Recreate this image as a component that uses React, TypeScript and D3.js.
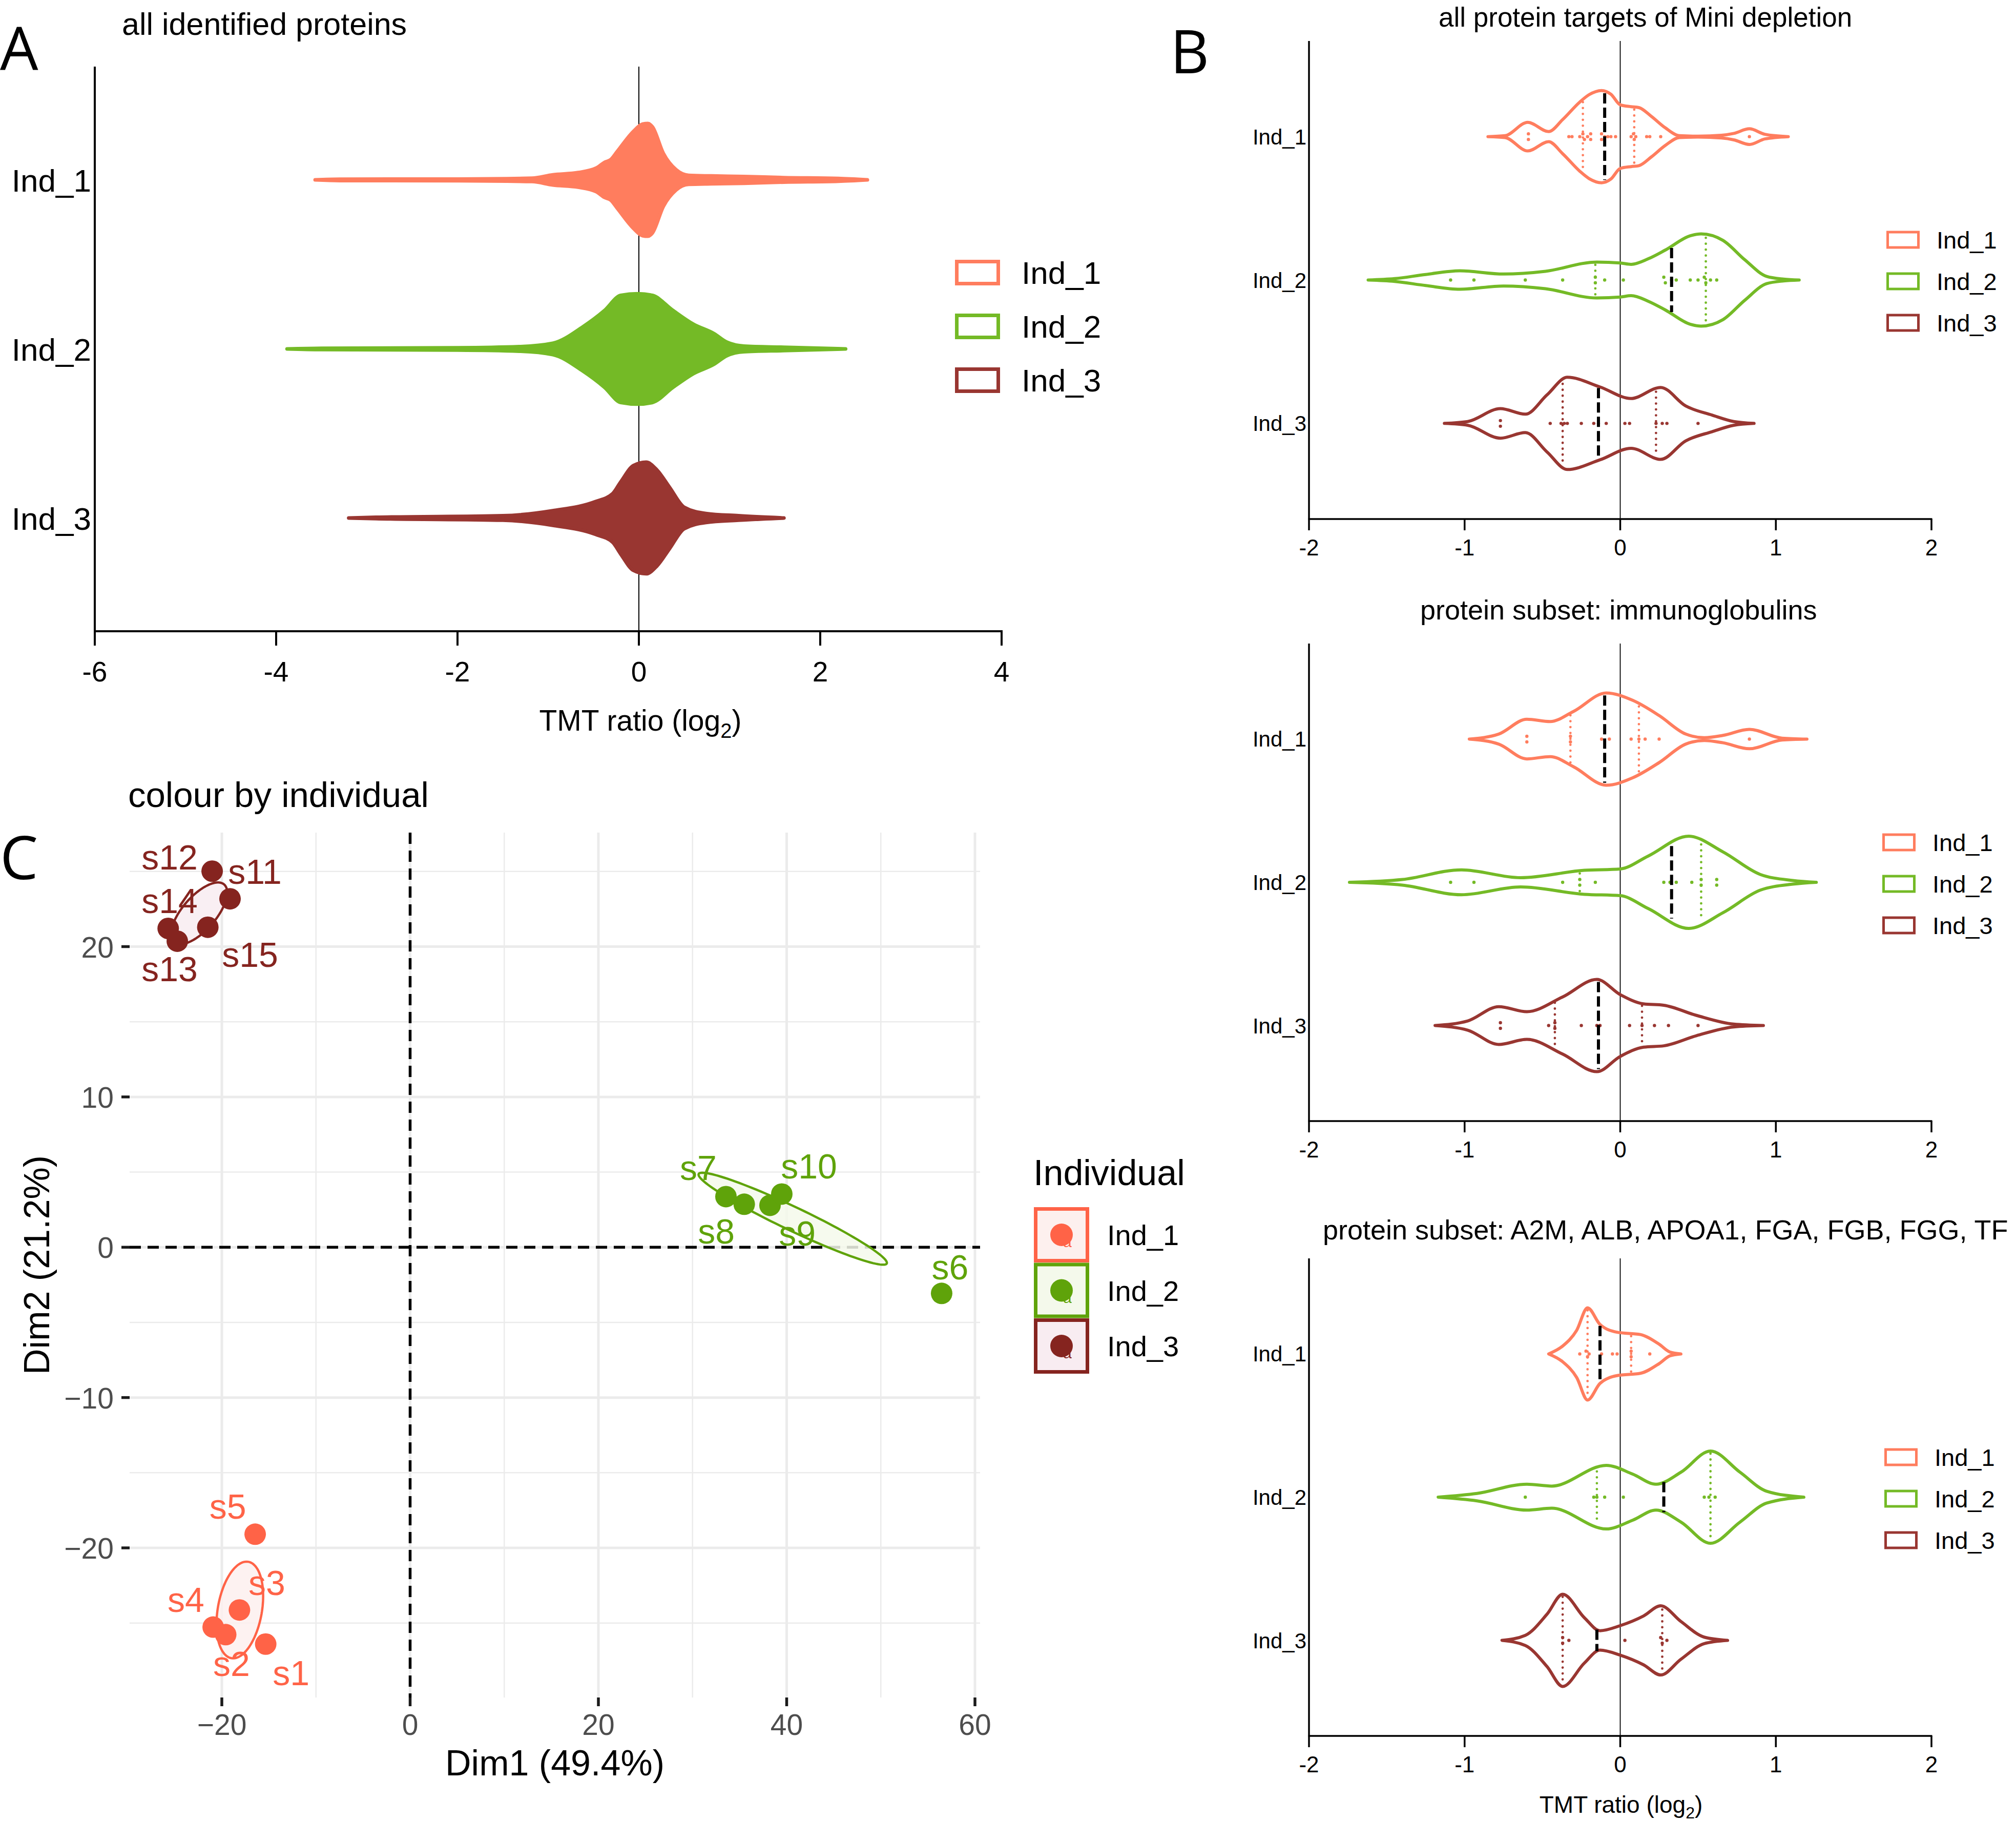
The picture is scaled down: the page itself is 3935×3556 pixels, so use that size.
import React from "react";
import * as d3 from "d3";

type Pt = [number, number];

const W = 3935;
const H = 3556;
const FONT = "'Liberation Sans', Arial, Helvetica, sans-serif";
const LETTER_FONT = "'Open Sans', 'Liberation Sans', sans-serif";

const individuals = ["Ind_1", "Ind_2", "Ind_3"];
const violinColors = ["#FF7D5E", "#74BA26", "#993631"];
const pcaColors = ["#FF6347", "#5FA30A", "#85241F"];
const pcaTints = ["#FDF0EE", "#F4F9EB", "#F8ECF1"];

// ---------- Panel A: all identified proteins (log2 TMT ratio, relative density)
const allInd1: Pt[] = [[-3.57, 0], [-3.3, 0.012], [-2.0, 0.015], [-1.18, 0.03], [-0.95, 0.09], [-0.67, 0.13], [-0.47, 0.21], [-0.38, 0.31], [-0.31, 0.36], [-0.24, 0.5], [-0.06, 0.86], [0.04, 0.99], [0.1, 1.0], [0.15, 0.94], [0.27, 0.47], [0.41, 0.18], [0.55, 0.08], [0.8, 0.07], [1.16, 0.06], [1.6, 0.04], [2.2, 0.025], [2.52, 0]];
const allInd2: Pt[] = [[-3.88, 0], [-3.5, 0.012], [-2.0, 0.02], [-1.32, 0.04], [-0.95, 0.1], [-0.62, 0.39], [-0.38, 0.68], [-0.2, 0.95], [-0.01, 0.98], [0.15, 0.95], [0.37, 0.69], [0.6, 0.44], [0.83, 0.27], [0.97, 0.12], [1.16, 0.05], [1.6, 0.03], [2.28, 0]];
const allInd3: Pt[] = [[-3.2, 0], [-2.9, 0.012], [-1.5, 0.04], [-0.95, 0.13], [-0.48, 0.29], [-0.29, 0.43], [-0.2, 0.64], [-0.06, 0.93], [0.08, 0.99], [0.2, 0.85], [0.34, 0.54], [0.5, 0.19], [0.74, 0.08], [1.1, 0.04], [1.6, 0]];
const ticksA = [-6, -4, -2, 0, 2, 4];

// ---------- Panel B: three protein subsets
const ticksB = [-2, -1, 0, 1, 2];

// subset 1: all protein targets of Mini depletion
const miniDens1: Pt[] = [[-0.85, 0], [-0.74, 0.02], [-0.594, 0.31], [-0.46, 0.11], [-0.37, 0.37], [-0.26, 0.75], [-0.2, 0.91], [-0.12, 1.0], [-0.06, 0.92], [0, 0.69], [0.07, 0.65], [0.12, 0.63], [0.2, 0.44], [0.29, 0.19], [0.38, 0.02], [0.5, 0.01], [0.65, 0.03], [0.73, 0.07], [0.83, 0.17], [0.93, 0.05], [1.08, 0]];
const miniDens2: Pt[] = [[-1.62, 0], [-1.45, 0.03], [-1.25, 0.12], [-1.03, 0.2], [-0.75, 0.13], [-0.48, 0.19], [-0.15, 0.39], [0, 0.37], [0.07, 0.34], [0.18, 0.46], [0.29, 0.65], [0.45, 0.96], [0.52, 1.0], [0.66, 0.86], [0.8, 0.44], [0.94, 0.08], [1.05, 0.02], [1.15, 0]];
const miniDens3: Pt[] = [[-1.13, 0], [-0.98, 0.04], [-0.77, 0.32], [-0.61, 0.2], [-0.47, 0.62], [-0.34, 1.0], [-0.13, 0.79], [0.07, 0.54], [0.26, 0.78], [0.42, 0.38], [0.59, 0.18], [0.73, 0.04], [0.86, 0]];
const miniMedians = [-0.1, 0.33, -0.14];
const miniQuartiles: Pt[] = [[-0.24, 0.09], [-0.16, 0.55], [-0.37, 0.23]];
const miniPts1 = [-0.59, -0.59, -0.33, -0.31, -0.26, -0.24, -0.23, -0.21, -0.19, -0.19, -0.12, -0.12, -0.1, -0.08, -0.06, -0.03, 0.07, 0.085, 0.09, 0.1, 0.17, 0.19, 0.26, 0.83];
const miniPts2 = [-1.09, -0.94, -0.61, -0.37, -0.16, -0.16, -0.1, 0.02, 0.28, 0.29, 0.33, 0.36, 0.45, 0.5, 0.54, 0.55, 0.58, 0.62];
const miniPts3 = [-0.77, -0.77, -0.45, -0.38, -0.36, -0.34, -0.25, -0.17, -0.14, -0.09, 0.03, 0.06, 0.23, 0.27, 0.3, 0.5];

// subset 2: immunoglobulins
const igDens1: Pt[] = [[-0.97, 0], [-0.78, 0.11], [-0.6, 0.43], [-0.45, 0.38], [-0.3, 0.6], [-0.09, 1.0], [0.08, 0.84], [0.25, 0.51], [0.42, 0.11], [0.54, 0.03], [0.66, 0.08], [0.83, 0.21], [1.04, 0.02], [1.2, 0]];
const igDens2: Pt[] = [[-1.74, 0], [-1.4, 0.06], [-1.02, 0.27], [-0.64, 0.1], [-0.23, 0.26], [0, 0.29], [0.18, 0.57], [0.44, 1.0], [0.66, 0.66], [0.9, 0.17], [1.11, 0.04], [1.26, 0]];
const igDens3: Pt[] = [[-1.19, 0], [-0.98, 0.1], [-0.78, 0.41], [-0.6, 0.3], [-0.37, 0.62], [-0.15, 1.0], [0, 0.67], [0.15, 0.47], [0.28, 0.44], [0.49, 0.22], [0.73, 0.03], [0.92, 0]];
const igMedians = [-0.1, 0.33, -0.14];
const igQuartiles: Pt[] = [[-0.32, 0.12], [-0.26, 0.52], [-0.42, 0.14]];
const igPts1 = [-0.6, -0.6, -0.32, -0.32, -0.12, -0.07, 0.07, 0.12, 0.16, 0.25, 0.83];
const igPts2 = [-1.09, -0.94, -0.37, -0.26, -0.26, -0.16, 0.28, 0.32, 0.36, 0.46, 0.52, 0.52, 0.62, 0.62];
const igPts3 = [-0.77, -0.77, -0.46, -0.42, -0.42, -0.25, -0.15, -0.13, 0.06, 0.14, 0.22, 0.31, 0.5];

// subset 3: A2M, ALB, APOA1, FGA, FGB, FGG, TF
const abDens1: Pt[] = [[-0.46, 0], [-0.37, 0.17], [-0.28, 0.51], [-0.21, 1.0], [-0.13, 0.64], [-0.02, 0.47], [0.13, 0.42], [0.25, 0.21], [0.32, 0.04], [0.39, 0]];
const abDens2: Pt[] = [[-1.17, 0], [-0.92, 0.08], [-0.6, 0.28], [-0.44, 0.24], [-0.09, 0.69], [0.08, 0.5], [0.23, 0.28], [0.39, 0.54], [0.58, 1.0], [0.77, 0.54], [0.94, 0.13], [1.18, 0]];
const abDens3: Pt[] = [[-0.76, 0], [-0.61, 0.11], [-0.47, 0.57], [-0.37, 1.0], [-0.23, 0.49], [-0.13, 0.21], [0, 0.32], [0.15, 0.53], [0.26, 0.75], [0.39, 0.41], [0.54, 0.07], [0.69, 0]];
const abMedians = [-0.13, 0.28, -0.15];
const abQuartiles: Pt[] = [[-0.21, 0.07], [-0.15, 0.58], [-0.37, 0.27]];
const abPts1 = [-0.26, -0.22, -0.21, -0.2, -0.12, -0.05, -0.02, 0.07, 0.07, 0.19];
const abPts2 = [-0.61, -0.17, -0.15, -0.1, 0.02, 0.54, 0.57, 0.61];
const abPts3 = [-0.37, -0.37, -0.33, 0.03, 0.26, 0.27, 0.3];

const subsetTitles = [
  "all protein targets of Mini depletion",
  "protein subset: immunoglobulins",
  "protein subset: A2M, ALB, APOA1, FGA, FGB, FGG, TF",
];

// ---------- Panel C: PCA of individuals
const sampleNames = ["s1", "s2", "s3", "s4", "s5", "s6", "s7", "s8", "s9", "s10", "s11", "s12", "s13", "s14", "s15"];
const sampleGroup = [0, 0, 0, 0, 0, 1, 1, 1, 1, 1, 2, 2, 2, 2, 2];
const dim1 = [-15.34, -19.59, -18.13, -20.92, -16.46, 56.46, 33.55, 35.49, 38.23, 39.48, -19.13, -21.03, -24.73, -25.7, -21.49];
const dim2 = [-26.4, -25.77, -24.13, -25.27, -19.09, -3.07, 3.37, 2.86, 2.79, 3.54, 23.18, 25.02, 20.36, 21.21, 21.29];
const labelDim1 = [-12.65, -18.97, -15.21, -23.81, -19.37, 57.35, 30.61, 32.52, 41.12, 42.37, -16.49, -25.55, -25.55, -25.55, -17.0];
const labelDim2 = [-29.12, -28.51, -23.12, -24.27, -18.07, -2.13, 4.48, 0.24, 0.1, 4.57, 24.16, 25.12, 17.69, 22.23, 18.65];
const xTicksC = [-20, 0, 20, 40, 60];
const yTicksC = [-20, -10, 0, 10, 20];

// ---------- helpers
function halfAt(profile: Pt[], v: number): number {
  for (let i = 0; i < profile.length - 1; i++) {
    const [x0, y0] = profile[i];
    const [x1, y1] = profile[i + 1];
    if (v >= x0 && v <= x1) return y0 + ((v - x0) / (x1 - x0)) * (y1 - y0);
  }
  return 0;
}

function dodge(px: number[], thresh: number, step: number) {
  const s = [...px].sort((a, b) => a - b);
  const out: { cx: number; dy: number }[] = [];
  let i = 0;
  while (i < s.length) {
    let j = i;
    while (j + 1 < s.length && s[j + 1] - s[i] < thresh) j++;
    const n = j - i + 1;
    for (let k = 0; k < n; k++) out.push({ cx: s[i + k], dy: (k - (n - 1) / 2) * step });
    i = j + 1;
  }
  return out;
}

function confidenceEllipse(pts: Pt[], chi2 = 5.991, n = 120): Pt[] {
  const m = pts.length;
  const mx = d3.mean(pts, (p) => p[0]) as number;
  const my = d3.mean(pts, (p) => p[1]) as number;
  let sxx = 0, syy = 0, sxy = 0;
  pts.forEach(([px, py]) => {
    sxx += (px - mx) ** 2;
    syy += (py - my) ** 2;
    sxy += (px - mx) * (py - my);
  });
  sxx /= m - 1; syy /= m - 1; sxy /= m - 1;
  const a = (sxx * chi2) / m, b = (sxy * chi2) / m, c = (syy * chi2) / m;
  const tr = a + c, det = a * c - b * b;
  const disc = Math.sqrt(Math.max(0, (tr * tr) / 4 - det));
  const l1 = tr / 2 + disc, l2 = tr / 2 - disc;
  const theta = Math.abs(b) < 1e-12 ? (a >= c ? 0 : Math.PI / 2) : Math.atan2(l1 - a, b);
  return d3.range(n + 1).map((i) => {
    const t = (i / n) * 2 * Math.PI;
    const u = Math.sqrt(l1) * Math.cos(t);
    const v = Math.sqrt(Math.max(l2, 0)) * Math.sin(t);
    return [mx + u * Math.cos(theta) - v * Math.sin(theta), my + u * Math.sin(theta) + v * Math.cos(theta)] as Pt;
  });
}

// ---------- Panel A
function PanelA() {
  const left = 185, right = 1955, top = 130, axisY = 1232;
  const x = d3.scaleLinear().domain([-6, 4]).range([left, right]);
  const y = d3.scalePoint<string>().domain(individuals).range([top, axisY]).padding(0.67);
  const profiles = [allInd1, allInd2, allInd3];
  const halfMax = 110;
  const legendY = [532, 637, 742];
  return (
    <g>
      <text x={0} y={137} fontSize={118} fontFamily={LETTER_FONT}>A</text>
      <text x={238} y={68} fontSize={61}>all identified proteins</text>
      <line x1={x(0)} x2={x(0)} y1={top} y2={axisY} stroke="#000" strokeWidth={2} />
      {profiles.map((p, i) => {
        const cy = y(individuals[i]) as number;
        const area = d3
          .area<Pt>()
          .x((d) => x(d[0]))
          .y0((d) => cy - d[1] * halfMax)
          .y1((d) => cy + d[1] * halfMax)
          .curve(d3.curveMonotoneX);
        return (
          <path key={i} d={area(p) as string} fill={violinColors[i]} stroke={violinColors[i]} strokeWidth={7} strokeLinejoin="round" />
        );
      })}
      <line x1={left} x2={left} y1={top} y2={axisY} stroke="#000" strokeWidth={4} />
      <line x1={left - 2} x2={right + 2} y1={axisY} y2={axisY} stroke="#000" strokeWidth={4} />
      {ticksA.map((t) => (
        <g key={t}>
          <line x1={x(t)} x2={x(t)} y1={axisY} y2={axisY + 28} stroke="#000" strokeWidth={4} />
          <text x={x(t)} y={1330} fontSize={55} textAnchor="middle">{String(t)}</text>
        </g>
      ))}
      {individuals.map((name) => (
        <text key={name} x={178} y={(y(name) as number) + 23} fontSize={62} textAnchor="end">{name}</text>
      ))}
      <text x={1250} y={1426} fontSize={57} textAnchor="middle">
        TMT ratio (log<tspan dy={14} fontSize={40}>2</tspan><tspan dy={-14}>)</tspan>
      </text>
      {individuals.map((name, i) => (
        <g key={name}>
          <rect x={1867.5} y={legendY[i] - 21.5} width={81} height={43} fill="none" stroke={violinColors[i]} strokeWidth={7} />
          <text x={1994} y={legendY[i] + 22} fontSize={62}>{name}</text>
        </g>
      ))}
    </g>
  );
}

// ---------- Panel B
type Subset = {
  dens: Pt[][];
  medians: number[];
  quartiles: Pt[];
  points: number[][];
};

const subsets: Subset[] = [
  { dens: [miniDens1, miniDens2, miniDens3], medians: miniMedians, quartiles: miniQuartiles, points: [miniPts1, miniPts2, miniPts3] },
  { dens: [igDens1, igDens2, igDens3], medians: igMedians, quartiles: igQuartiles, points: [igPts1, igPts2, igPts3] },
  { dens: [abDens1, abDens2, abDens3], medians: abMedians, quartiles: abQuartiles, points: [abPts1, abPts2, abPts3] },
];

const subLayout = [
  { top: 80, bottom: 1013, titleX: 2808, titleY: 52, legendX: 3682 },
  { top: 1256, bottom: 2188, titleX: 2772, titleY: 1209, legendX: 3674 },
  { top: 2456, bottom: 3388, titleX: 2582, titleY: 2419, legendX: 3678 },
];

function ViolinSubplot({ s, k }: { s: Subset; k: number }) {
  const L = subLayout[k];
  const left = 2555, right = 3770;
  const x = d3.scaleLinear().domain([-2, 2]).range([left, right]);
  const y = d3.scalePoint<string>().domain(individuals).range([L.top, L.bottom]).padding(0.667);
  const halfMax = 90;
  return (
    <g>
      <text x={L.titleX} y={L.titleY} fontSize={k === 0 ? 53 : 54}>{subsetTitles[k]}</text>
      <line x1={x(0)} x2={x(0)} y1={L.top} y2={L.bottom} stroke="#000" strokeWidth={1.8} />
      {individuals.map((name, i) => {
        const cy = y(name) as number;
        const prof = s.dens[i];
        const area = d3
          .area<Pt>()
          .x((d) => x(d[0]))
          .y0((d) => cy - d[1] * halfMax)
          .y1((d) => cy + d[1] * halfMax)
          .curve(d3.curveMonotoneX);
        const col = violinColors[i];
        const dots = dodge(s.points[i].map((v) => x(v)), 4, 11);
        return (
          <g key={name}>
            <path d={area(prof) as string} fill="none" stroke={col} strokeWidth={6} strokeLinejoin="round" />
            {s.quartiles[i].map((q, j) => {
              const hw = halfAt(prof, q) * halfMax;
              return (
                <line key={j} x1={x(q)} x2={x(q)} y1={cy - hw + 5} y2={cy + hw - 5} stroke={col} strokeWidth={4.8} strokeDasharray="0 11.5" strokeLinecap="round" />
              );
            })}
            {dots.map((d, j) => (
              <circle key={j} cx={d.cx} cy={cy + d.dy} r={3.2} fill={col} />
            ))}
            {(() => {
              const m = s.medians[i];
              const hw = halfAt(prof, m) * halfMax;
              return <line x1={x(m)} x2={x(m)} y1={cy - hw + 3} y2={cy + hw - 3} stroke="#000" strokeWidth={6} strokeDasharray="20 8" />;
            })()}
            <text x={2550} y={cy + 15} fontSize={42} textAnchor="end">{name}</text>
          </g>
        );
      })}
      <line x1={left} x2={left} y1={L.top} y2={L.bottom} stroke="#000" strokeWidth={3.5} />
      <line x1={left - 1.5} x2={right + 1.5} y1={L.bottom} y2={L.bottom} stroke="#000" strokeWidth={3.5} />
      {ticksB.map((t) => (
        <g key={t}>
          <line x1={x(t)} x2={x(t)} y1={L.bottom} y2={L.bottom + 22} stroke="#000" strokeWidth={3.5} />
          <text x={x(t)} y={L.bottom + 71} fontSize={44} textAnchor="middle">{String(t)}</text>
        </g>
      ))}
      {individuals.map((name, i) => {
        const ly = L.top + 388 + i * 81;
        return (
          <g key={name}>
            <rect x={L.legendX + 2.5} y={ly - 15} width={60} height={30} fill="none" stroke={violinColors[i]} strokeWidth={5} />
            <text x={L.legendX + 98} y={ly + 17} fontSize={47}>{name}</text>
          </g>
        );
      })}
    </g>
  );
}

function PanelB() {
  return (
    <g>
      <text x={2284} y={143} fontSize={118} fontFamily={LETTER_FONT}>B</text>
      {subsets.map((s, k) => (
        <ViolinSubplot key={k} s={s} k={k} />
      ))}
      <text x={3164} y={3538} fontSize={46} textAnchor="middle">
        TMT ratio (log<tspan dy={11} fontSize={32}>2</tspan><tspan dy={-11}>)</tspan>
      </text>
    </g>
  );
}

// ---------- Panel C
function PanelC() {
  const left = 253, right = 1913, top = 1625, bottom = 3313;
  const x = d3.scaleLinear().domain([-20, 60]).range([433, 1903]);
  const y = d3.scaleLinear().domain([-20, 20]).range([3021, 1847.5]);
  const fmt = d3.format("d");
  const xStep = xTicksC[1] - xTicksC[0];
  const yStep = yTicksC[1] - yTicksC[0];
  const inX = (v: number) => x(v) >= left && x(v) <= right;
  const inY = (v: number) => y(v) >= top && y(v) <= bottom;
  const xMinor = d3.range(xTicksC[0] - xStep / 2, xTicksC[xTicksC.length - 1] + xStep, xStep).filter(inX);
  const yMinor = d3.range(yTicksC[0] - yStep / 2, yTicksC[yTicksC.length - 1] + yStep, yStep).filter(inY);
  const grid = "#EBEBEB";
  const line = d3.line<Pt>().x((d) => x(d[0])).y((d) => y(d[1])).curve(d3.curveLinearClosed);
  const legendTops = [2356, 2464.5, 2573];
  return (
    <g>
      <text x={0} y={1716} fontSize={118} fontFamily={LETTER_FONT}>C</text>
      <text x={250} y={1575} fontSize={69}>colour by individual</text>
      {xMinor.map((v) => (
        <line key={"xm" + v} x1={x(v)} x2={x(v)} y1={top} y2={bottom} stroke={grid} strokeWidth={2.5} />
      ))}
      {yMinor.map((v) => (
        <line key={"ym" + v} x1={left} x2={right} y1={y(v)} y2={y(v)} stroke={grid} strokeWidth={2.5} />
      ))}
      {xTicksC.map((v) => (
        <line key={"xM" + v} x1={x(v)} x2={x(v)} y1={top} y2={bottom} stroke={grid} strokeWidth={5} />
      ))}
      {yTicksC.map((v) => (
        <line key={"yM" + v} x1={left} x2={right} y1={y(v)} y2={y(v)} stroke={grid} strokeWidth={5} />
      ))}
      <line x1={x(0)} x2={x(0)} y1={top} y2={bottom} stroke="#000" strokeWidth={5.5} strokeDasharray="22 13" />
      <line x1={left} x2={right} y1={y(0)} y2={y(0)} stroke="#000" strokeWidth={5.5} strokeDasharray="22 13" />
      {[0, 1, 2].map((g) => {
        const pts: Pt[] = dim1.map((d, i) => [d, dim2[i]] as Pt).filter((_, i) => sampleGroup[i] === g);
        return (
          <path key={g} d={line(confidenceEllipse(pts)) as string} fill={pcaTints[g]} fillOpacity={0.85} stroke={pcaColors[g]} strokeWidth={4.5} />
        );
      })}
      {sampleNames.map((nm, i) => (
        <circle key={nm} cx={x(dim1[i])} cy={y(dim2[i])} r={21} fill={pcaColors[sampleGroup[i]]} />
      ))}
      {sampleNames.map((nm, i) => (
        <text key={"l" + nm} x={x(labelDim1[i])} y={y(labelDim2[i])} fontSize={68} textAnchor="middle" fill={pcaColors[sampleGroup[i]]}>{nm}</text>
      ))}
      {xTicksC.map((v) => (
        <g key={"xt" + v}>
          <line x1={x(v)} x2={x(v)} y1={bottom} y2={bottom + 17} stroke="#1a1a1a" strokeWidth={5.5} />
          <text x={x(v)} y={3386} fontSize={57} textAnchor="middle" fill="#4D4D4D">{fmt(v)}</text>
        </g>
      ))}
      {yTicksC.map((v) => (
        <g key={"yt" + v}>
          <line x1={left - 16} x2={left} y1={y(v)} y2={y(v)} stroke="#1a1a1a" strokeWidth={5.5} />
          <text x={222} y={y(v) + 21} fontSize={57} textAnchor="end" fill="#4D4D4D">{fmt(v)}</text>
        </g>
      ))}
      <text x={(left + right) / 2} y={3465} fontSize={70} textAnchor="middle">Dim1 (49.4%)</text>
      <text transform={`translate(96, ${(top + bottom) / 2}) rotate(-90)`} fontSize={70} textAnchor="middle">Dim2 (21.2%)</text>
      <text x={2017} y={2313} fontSize={70}>Individual</text>
      {individuals.map((name, i) => {
        const t = legendTops[i];
        const cx = 2072, cy = t + 54;
        return (
          <g key={name}>
            <rect x={2021.5} y={t + 3.5} width={101} height={101} fill={pcaTints[i]} stroke={pcaColors[i]} strokeWidth={7} />
            <text x={cx + 3} y={cy + 24} fontSize={30} fill={pcaColors[i]}>a</text>
            <circle cx={cx} cy={cy} r={22} fill={pcaColors[i]} />
            <text x={2161} y={cy + 20} fontSize={56}>{name}</text>
          </g>
        );
      })}
    </g>
  );
}

export default function App() {
  return (
    <svg
      width={W}
      height={H}
      viewBox={`0 0 ${W} ${H}`}
      style={{ position: "absolute", left: 0, top: 0, display: "block", background: "#fff" }}
      fontFamily={FONT}
    >
      <rect x={0} y={0} width={W} height={H} fill="#fff" />
      <PanelA />
      <PanelB />
      <PanelC />
    </svg>
  );
}
